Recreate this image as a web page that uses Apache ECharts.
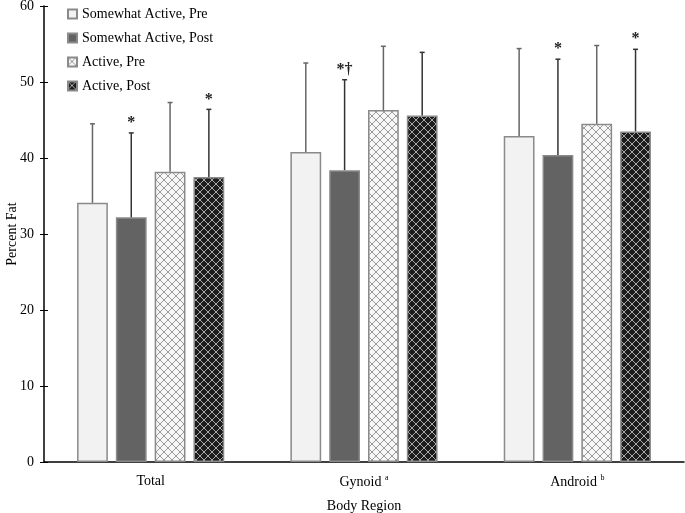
<!DOCTYPE html>
<html>
<head>
<meta charset="utf-8">
<script src="https://cdn.jsdelivr.net/npm/echarts@6/dist/echarts.min.js"></script>
<style>html,body{margin:0;padding:0;background:#fff}#c{width:685px;height:513px}</style>
</head>
<body>
<div id="c"></div>
<script>
const categories = ['Total', 'Gynoid', 'Android'];
const seriesNames = ['Somewhat Active, Pre', 'Somewhat Active, Post', 'Active, Pre', 'Active, Post'];
const somewhatPre = [34.1, 40.8, 42.9];
const somewhatPost = [32.2, 38.4, 40.4];
const activePre = [38.2, 46.3, 44.5];
const activePost = [37.5, 45.6, 43.5];
const somewhatPreUpper = [44.5, 52.5, 54.4];
const somewhatPostUpper = [43.3, 50.3, 53.0];
const activePreUpper = [47.3, 54.7, 54.8];
const activePostUpper = [46.4, 53.9, 54.3];
const sigMarks = [
  ['', '*', '', '*'],
  ['', '*†', '', ''],
  ['', '*', '', '*']
];
const yTicks = [0, 10, 20, 30, 40, 50, 60];

function makePattern(bg, line) {
  const s = 8;
  const cv = document.createElement('canvas');
  cv.width = s; cv.height = s;
  const ctx = cv.getContext('2d');
  ctx.fillStyle = bg; ctx.fillRect(0, 0, s, s);
  ctx.strokeStyle = line; ctx.lineWidth = 1;
  ctx.beginPath();
  ctx.moveTo(0, 0); ctx.lineTo(s, s);
  ctx.moveTo(s, 0); ctx.lineTo(0, s);
  ctx.stroke();
  return { image: cv, repeat: 'repeat' };
}

const values = [somewhatPre, somewhatPost, activePre, activePost];
const uppers = [somewhatPreUpper, somewhatPostUpper, activePreUpper, activePostUpper];
const fills = ['#f2f2f2', '#636363', makePattern('#f7f7f7', '#9a9a9a'), makePattern('#1c1c1c', '#a8a8a8')];
const errColors = ['#666666', '#333333', '#666666', '#333333'];
const CAT_GAP = 0.31, BAR_GAP = 0.26;
const font = 'Liberation Serif';

const errData = [];
for (let s = 0; s < 4; s++) {
  for (let c = 0; c < categories.length; c++) {
    errData.push([c, values[s][c], uppers[s][c], s, sigMarks[c][s]]);
  }
}

const series = values.map((v, i) => ({
  name: seriesNames[i],
  type: 'bar',
  data: v,
  barGap: (BAR_GAP * 100) + '%',
  barCategoryGap: (CAT_GAP * 100) + '%',
  itemStyle: { color: fills[i], borderColor: '#8a8a8a', borderWidth: 1.5 },
  emphasis: { disabled: true },
  silent: true
}));

series.push({
  type: 'custom',
  silent: true,
  data: errData,
  z: 5,
  renderItem: function (params, api) {
    const cat = api.value(0);
    const s = api.value(3);
    const mark = errData[params.dataIndex][4];
    const band = api.size([1, 0])[0];
    const total = band * (1 - CAT_GAP);
    const bw = total / (4 + 3 * BAR_GAP);
    const center = api.coord([cat, 0])[0];
    const x = center - total / 2 + bw / 2 + s * bw * (1 + BAR_GAP);
    const yv = api.coord([cat, api.value(1)])[1];
    const yu = api.coord([cat, api.value(2)])[1];
    const col = errColors[s];
    const children = [
      { type: 'line', shape: { x1: x, y1: yv, x2: x, y2: yu }, style: { stroke: col, lineWidth: 1.5 } },
      { type: 'line', shape: { x1: x - 2.5, y1: yu, x2: x + 2.5, y2: yu }, style: { stroke: col, lineWidth: 1.5 } }
    ];
    if (mark) {
      children.push({ type: 'text', style: { text: mark, x: x, y: yu - 2, align: 'center', verticalAlign: 'bottom', font: 'bold 16px "Liberation Serif"', fill: '#222' } });
    }
    return { type: 'group', children: children };
  }
});

const chart = echarts.init(document.getElementById('c'));
chart.setOption({
  animation: false,
  backgroundColor: '#fff',
  textStyle: { fontFamily: font },
  grid: { left: 44, right: 1, top: 6, bottom: 51, containLabel: false, outerBoundsMode: 'none' },
  legend: {
    data: seriesNames,
    orient: 'vertical',
    left: 62, top: 2,
    icon: 'rect',
    itemWidth: 9, itemHeight: 9,
    itemGap: 10,
    textStyle: { fontFamily: font, fontSize: 14, color: '#000' },
    selectedMode: false
  },
  xAxis: {
    type: 'category',
    data: categories,
    name: 'Body Region',
    nameLocation: 'middle',
    nameGap: 37,
    nameMoveOverlap: false,
    nameTextStyle: { fontFamily: font, fontSize: 14, color: '#000' },
    axisLine: { lineStyle: { color: '#000', width: 1.5 } },
    axisTick: { show: false },
    axisLabel: {
      margin: 12,
      fontFamily: font, fontSize: 14, color: '#000',
      formatter: function (v) {
        if (v === 'Gynoid') return 'Gynoid {sup|a}';
        if (v === 'Android') return 'Android {sup|b}';
        return v;
      },
      rich: { sup: { fontSize: 8, verticalAlign: 'top', padding: [0, 0, 8, 0], fontFamily: font, color: '#000' } }
    }
  },
  yAxis: [{
    type: 'value',
    min: 0, max: 60, interval: 10,
    name: 'Percent Fat',
    nameLocation: 'middle',
    nameGap: 25,
    nameMoveOverlap: false,
    nameTextStyle: { fontFamily: font, fontSize: 14, color: '#000' },
    axisLine: { show: true, lineStyle: { color: '#000', width: 1.5 } },
    axisTick: { show: true, length: 4, lineStyle: { color: '#000' } },
    axisLabel: { fontFamily: font, fontSize: 14, color: '#000', margin: 10 },
    splitLine: { show: false }
  }, {
    type: 'value',
    position: 'left',
    min: 0, max: 60, interval: 10,
    axisLine: { show: false },
    axisTick: { show: true, inside: true, length: 4, lineStyle: { color: '#000' } },
    axisLabel: { show: false },
    splitLine: { show: false }
  }],
  series: series
});
</script>
</body>
</html>
